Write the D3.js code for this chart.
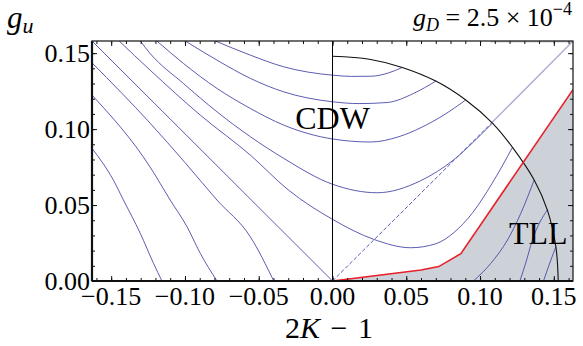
<!DOCTYPE html>
<html>
<head>
<meta charset="utf-8">
<script src="https://cdnjs.cloudflare.com/ajax/libs/d3/7.8.5/d3.min.js"></script>
<style>
  body { margin: 0; background: #fff; }
  svg { display: block; font-family: "Liberation Serif", "Times New Roman", Times, serif; }
</style>
</head>
<body>
<div id="chart"></div>
<script>
// axis ranges and ticks
var xDomain = [-0.163, 0.163];
var yDomain = [0, 0.158];
var xMajor = [-0.15, -0.10, -0.05, 0.00, 0.05, 0.10, 0.15];
var yMajor = [0.00, 0.05, 0.10, 0.15];
var xMinor = d3.range(-16, 17).map(function(i) { return i / 100; });
var yMinor = d3.range(0, 16).map(function(i) { return i / 100; });

// flow lines (2K-1, g_u)
var flowA = [[-0.0794,0.158],[-0.0557,0.1487],[-0.033,0.141],[0,0.1355],[0.013,0.1347],[0.026,0.1348],[0.038,0.137],[0.0473,0.1406]];
var flowB = [[-0.0998,0.158],[-0.0783,0.1454],[-0.0557,0.1334],[-0.033,0.1245],[0,0.118],[0.018,0.1168],[0.037,0.1175],[0.055,0.1235],[0.070,0.1316]];
var flowC = [[-0.119,0.158],[-0.101,0.1432],[-0.0783,0.1268],[-0.0557,0.1136],[-0.033,0.1026],[0,0.0935],[0.0258,0.0915],[0.045,0.095],[0.06,0.101],[0.075,0.109],[0.0903,0.1192]];
var flowD = [[-0.1303,0.158],[-0.1236,0.1498],[-0.101,0.13],[-0.0783,0.1114],[-0.0557,0.095],[-0.033,0.0807],[0,0.0637],[0.0303,0.0581],[0.0597,0.066],[0.0824,0.08],[0.0955,0.0915],[0.1084,0.104]];
var flowE = [[-0.1446,0.158],[-0.1236,0.1388],[-0.0896,0.1092],[-0.0557,0.0829],[-0.0299,0.0599],[0,0.0406],[0.028,0.0274],[0.053,0.0219],[0.07,0.0245],[0.0824,0.032],[0.095,0.045],[0.108,0.064],[0.122,0.088]];
var flowF1 = [[-0.163,0.1436],[-0.1236,0.1039],[-0.1,0.078],[-0.0783,0.0533],[-0.0557,0.0291],[-0.0398,0]];
var flowF2 = [[-0.163,0.1224],[-0.1236,0.075],[-0.11,0.0533],[-0.0986,0.0357],[-0.0896,0.0182],[-0.0783,0]];
var flowF3 = [[-0.163,0.0873],[-0.1485,0.0664],[-0.1417,0.0533],[-0.1303,0.0314],[-0.1213,0.0116],[-0.1156,0]];
var flowG1 = [[0.0955,0],[0.1073,0.0116],[0.1186,0.027],[0.1276,0.0445],[0.1367,0.0665]];
var flowG2 = [[0.127,0],[0.131,0.012],[0.1355,0.027],[0.1457,0.047]];
var flowG3 = [[0.143,0],[0.148,0.0138],[0.1514,0.0225]];
var flows = [flowA, flowB, flowC, flowD, flowE, flowF1, flowF2, flowF3, flowG1, flowG2, flowG3];

var sepLeft = [[-0.163,0.158],[0,0]];
var sepDashed = [[0,0],[0.1078,0.104]];
var sepPale = [[0.1078,0.104],[0.163,0.158]];

// boundary arc
var arc = [[0,0.148],[0.025,0.146],[0.0473,0.1406],[0.070,0.1316],[0.0903,0.1192],[0.1084,0.104],[0.122,0.088],[0.1367,0.0665],[0.1457,0.0465],[0.1514,0.0225],[0.153,0]];

// TLL boundary (red) and shaded region
var redLine = [[0,0],[0.06,0.0072],[0.072,0.0095],[0.087,0.018],[0.163,0.126]];
var tllCorner = [[0.163,0],[0,0]];
var topSliver = [[0.107,0.158],[0.163,0.158]];

var W = 583, H = 346;
var margin = { top: 41, right: 10, bottom: 65, left: 92 };
var width = W - margin.left - margin.right,
    height = H - margin.top - margin.bottom;

var x = d3.scaleLinear().domain(xDomain).range([0, width]);
var y = d3.scaleLinear().domain(yDomain).range([height, 0]);

var svg = d3.select('#chart').append('svg')
  .attr('width', W).attr('height', H);

var g = svg.append('g')
  .attr('transform', 'translate(' + margin.left + ',' + margin.top + ')');

g.append('clipPath').attr('id', 'clip')
  .append('rect').attr('width', width).attr('height', height);

var plot = g.append('g').attr('clip-path', 'url(#clip)');

var line = d3.line()
  .x(function(d) { return x(d[0]); })
  .y(function(d) { return y(d[1]); });
var smooth = d3.line()
  .x(function(d) { return x(d[0]); })
  .y(function(d) { return y(d[1]); })
  .curve(d3.curveMonotoneX);
var round = d3.line()
  .x(function(d) { return x(d[0]); })
  .y(function(d) { return y(d[1]); })
  .curve(d3.curveCatmullRom.alpha(0.5));

//Shaded TLL region
plot.append('path')
  .attr('d', line(redLine.concat(tllCorner)) + 'Z')
  .attr('fill', '#cdd1d8');

plot.append('path')
  .attr('d', line(topSliver))
  .attr('stroke', '#c8cbd2').attr('stroke-width', 3).attr('fill', 'none');

//Flow lines
plot.selectAll('.flow')
  .data(flows)
  .enter()
  .append('path')
  .attr('class', 'flow')
  .attr('d', smooth)
  .attr('fill', 'none')
  .attr('stroke', '#4a4aa8')
  .attr('stroke-width', 0.9);

plot.append('path').attr('d', line(sepLeft))
  .attr('fill', 'none').attr('stroke', '#4a4aa8').attr('stroke-width', 0.9);
plot.append('path').attr('d', line(sepDashed))
  .attr('fill', 'none').attr('stroke', '#5a5ab8').attr('stroke-width', 1)
  .attr('stroke-dasharray', '4,2');
plot.append('path').attr('d', line(sepPale))
  .attr('fill', 'none').attr('stroke', '#a9a9d2').attr('stroke-width', 1.3);

//Vertical line at 2K-1 = 0
plot.append('line')
  .attr('x1', x(0)).attr('x2', x(0))
  .attr('y1', 0).attr('y2', height)
  .attr('stroke', '#000').attr('stroke-width', 1);

//Arc
plot.append('path').attr('d', round(arc))
  .attr('fill', 'none').attr('stroke', '#111').attr('stroke-width', 1.1);

//Red boundary
plot.append('path').attr('d', line(redLine))
  .attr('fill', 'none').attr('stroke', '#e8202a').attr('stroke-width', 1.6);

//Region labels
g.append('text').attr('x', x(0)).attr('y', y(0.1)).attr('text-anchor', 'middle')
  .style('font-size', '32px').text('CDW');
g.append('text').attr('x', x(0.1395)).attr('y', y(0.0243)).attr('text-anchor', 'middle')
  .style('font-size', '32px').text('TLL');

//Frame
g.append('rect').attr('width', width).attr('height', height)
  .attr('fill', 'none').attr('stroke', '#111').attr('stroke-width', 1.2);
g.append('line').attr('x1', 0).attr('x2', 0).attr('y1', 0).attr('y2', height)
  .attr('stroke', '#111').attr('stroke-width', 2.2);
g.append('line').attr('x1', 0).attr('x2', width).attr('y1', height).attr('y2', height)
  .attr('stroke', '#111').attr('stroke-width', 2.2);

//Ticks (inside, all four sides)
function drawTicks(axisGen, vals, size, tx) {
  var a = g.append('g').attr('transform', tx)
    .call(axisGen.tickValues(vals).tickSize(size).tickFormat(''));
  a.select('.domain').remove();
  a.selectAll('line').attr('stroke', '#111').attr('stroke-width', 1);
  return a;
}
drawTicks(d3.axisBottom(x), xMinor, -3, 'translate(0,' + height + ')');
drawTicks(d3.axisBottom(x), xMajor, -5, 'translate(0,' + height + ')');
drawTicks(d3.axisTop(x), xMinor, -3, 'translate(0,0)');
drawTicks(d3.axisTop(x), xMajor, -5, 'translate(0,0)');
drawTicks(d3.axisLeft(y), yMinor, -3, 'translate(0,0)');
drawTicks(d3.axisLeft(y), yMajor, -5, 'translate(0,0)');
drawTicks(d3.axisRight(y), yMinor, -3, 'translate(' + width + ',0)');
drawTicks(d3.axisRight(y), yMajor, -5, 'translate(' + width + ',0)');

//Tick labels
var fmt = function(v) { return d3.format('.2f')(v).replace('-', '\u2212'); };
g.selectAll('text.xl')
  .data(xMajor).enter().append('text').attr('class', 'xl')
  .attr('x', function(d) { return x(d); })
  .attr('y', height + 24)
  .attr('text-anchor', 'middle')
  .style('font-size', '26px')
  .text(fmt);
g.selectAll('text.yl')
  .data(yMajor).enter().append('text').attr('class', 'yl')
  .attr('x', -2)
  .attr('y', function(d) { return y(d) + 9; })
  .attr('text-anchor', 'end')
  .style('font-size', '26px')
  .text(fmt);

//Axis titles
var xt = svg.append('text').attr('x', 329).attr('y', 338)
  .attr('text-anchor', 'middle').style('font-size', '30px');
xt.append('tspan').text('2');
xt.append('tspan').style('font-style', 'italic').text('K');
xt.append('tspan').attr('dx', 3).text(' \u2212');
xt.append('tspan').attr('dx', 3).text(' 1');

var yt = svg.append('text').attr('x', 7).attr('y', 28).style('font-size', '31px');
yt.append('tspan').style('font-style', 'italic').text('g');
yt.append('tspan').style('font-style', 'italic').style('font-size', '22px').attr('dy', 5).text('u');

var gt = svg.append('text').attr('x', 572).attr('y', 26).attr('text-anchor', 'end').style('font-size', '26px');
gt.append('tspan').style('font-style', 'italic').text('g');
gt.append('tspan').style('font-style', 'italic').style('font-size', '18px').attr('dy', 5).text('D');
gt.append('tspan').attr('dy', -5).text(' = 2.5 \u00d7 10');
gt.append('tspan').style('font-size', '18px').attr('dy', -11).text('\u22124');
</script>
</body>
</html>
